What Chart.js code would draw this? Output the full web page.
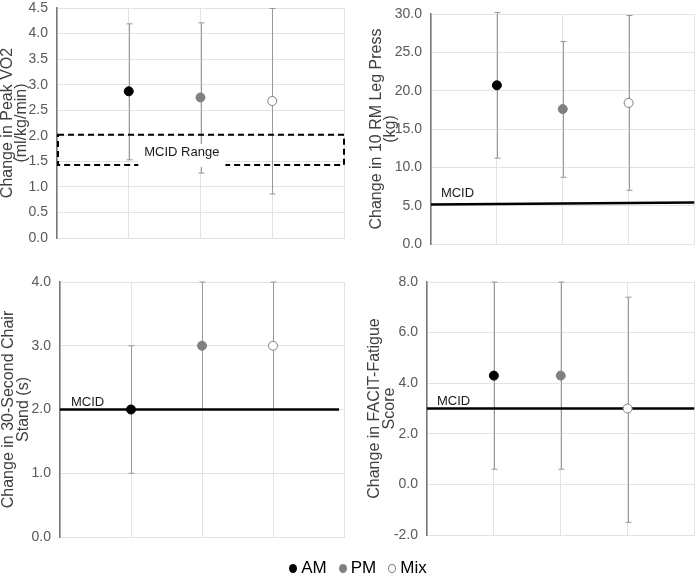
<!DOCTYPE html>
<html>
<head>
<meta charset="utf-8">
<script src="https://cdn.jsdelivr.net/npm/chart.js@4"></script>
<style>
body { margin: 0; background: #fff; width: 700px; height: 577px; position: relative; overflow: hidden;
  font-family: 'Liberation Sans', Arial, sans-serif; }
.panel { position: absolute; }
#legend { position: absolute; left: 14px; top: 557px; width: 700px; display: flex; justify-content: center;
  align-items: center; font-size: 17px; line-height: 22px; color: #000; }
#legend span.dot { display: inline-block; width: 8px; height: 9px; border-radius: 50%; margin-right: 4px; box-sizing: border-box; }
#legend span.item { margin-right: 12px; display: flex; align-items: center; }
</style>
</head>
<body>
<div class="panel" style="left:0;top:-10px"><canvas id="vo2" width="350" height="270"></canvas></div>
<div class="panel" style="left:350px;top:-10px"><canvas id="leg" width="350" height="280"></canvas></div>
<div class="panel" style="left:0;top:250px"><canvas id="chair" width="350" height="310"></canvas></div>
<div class="panel" style="left:350px;top:250px"><canvas id="facit" width="350" height="310"></canvas></div>
<div id="legend">
  <span class="item"><span class="dot" style="background:#000"></span>AM</span>
  <span class="item"><span class="dot" style="background:#808080"></span>PM</span>
  <span class="item"><span class="dot" style="background:#fff;border:1px solid #808080"></span>Mix</span>
</div>
<script>
// groups
const groups = ['AM', 'PM', 'Mix'];
const groupColors = ['#000000', '#808080', '#ffffff'];

// peak VO2 (ml/kg/min)
const vo2Mean = [2.87, 2.75, 2.68];
const vo2Low = [1.53, 1.27, 0.86];
const vo2High = [4.19, 4.21, 4.49];
const vo2Mcid = [1.43, 2.02];   // range box

// 10 RM leg press (kg)
const legMean = [20.7, 17.6, 18.4];
const legLow = [11.2, 8.7, 7.0];
const legHigh = [30.2, 26.4, 29.8];
const legMcid = [5.15, 5.4];    // line start / end

// 30 second chair stand
const chairMean = [2.0, 3.0, 3.0];
const chairLow = [1.0, 2.0, 2.0];
const chairHigh = [3.0, 4.0, 4.0];
const chairMcid = [2.0, 2.0];

// FACIT-fatigue
const facitMean = [4.3, 4.3, 3.0];
const facitLow = [0.6, 0.6, -1.5];
const facitHigh = [8.0, 8.0, 7.4];
const facitMcid = [3.0, 3.0];

const fontFam = "'Liberation Sans', Arial, sans-serif";

// draws the whiskers under the points
const errorBars = {
  id: 'errorBars',
  beforeDatasetsDraw(chart, args, opts) {
    const x = chart.scales.x, y = chart.scales.y, ctx = chart.ctx;
    ctx.save();
    ctx.strokeStyle = '#999';
    ctx.lineWidth = 1;
    opts.low.forEach((lo, i) => {
      const px = Math.round(x.getPixelForValue(i + 1)) + 0.5;
      const y1 = y.getPixelForValue(lo), y2 = y.getPixelForValue(opts.high[i]);
      ctx.beginPath();
      ctx.moveTo(px, y1); ctx.lineTo(px, y2);
      ctx.moveTo(px - 3, y1); ctx.lineTo(px + 3, y1);
      ctx.moveTo(px - 3, y2); ctx.lineTo(px + 3, y2);
      ctx.stroke();
    });
    ctx.restore();
  }
};

// MCID label + the dashed range box for VO2
const mcidMark = {
  id: 'mcidMark',
  afterDatasetsDraw(chart, args, opts) {
    const x = chart.scales.x, y = chart.scales.y, ctx = chart.ctx;
    ctx.save();
    ctx.font = opts.fontSize + 'px ' + fontFam;
    ctx.fillStyle = '#1a1a1a';
    if (opts.box) {
      const x0 = x.getPixelForValue(0) + 1, x1 = x.getPixelForValue(4);
      const yTop = y.getPixelForValue(opts.box[1]), yBot = y.getPixelForValue(opts.box[0]);
      ctx.strokeStyle = '#000';
      ctx.lineWidth = 2;
      ctx.setLineDash([6, 4]);
      ctx.strokeRect(x0, yTop, x1 - x0, yBot - yTop);
      ctx.setLineDash([]);
      const cx = x.getPixelForValue(opts.labelX);
      const cy = (yTop + yBot) / 2 + 3;
      const w = ctx.measureText(opts.text).width;
      ctx.fillStyle = '#fff';
      ctx.fillRect(cx - w / 2 - 6, cy - 9, w + 12, yBot - cy + 11);
      ctx.fillStyle = '#1a1a1a';
      ctx.textAlign = 'center';
      ctx.textBaseline = 'middle';
      ctx.fillText(opts.text, cx, cy);
    } else {
      ctx.textAlign = 'left';
      ctx.textBaseline = 'middle';
      ctx.fillText(opts.text, x.getPixelForValue(opts.labelX), y.getPixelForValue(opts.lineY) - opts.offset);
    }
    ctx.restore();
  }
};

function makeChart(id, cfg) {
  const datasets = [{
    type: 'scatter',
    label: 'groups',
    data: cfg.mean.map((v, i) => ({ x: i + 1, y: v })),
    pointRadius: 4.5,
    pointBackgroundColor: groupColors,
    pointBorderColor: ['#000000', '#808080', '#808080'],
    pointBorderWidth: 1,
    order: 0
  }];
  if (cfg.line) {
    datasets.push({
      type: 'line',
      label: 'MCID',
      data: [{ x: 0, y: cfg.line[0] }, { x: cfg.lineEnd, y: cfg.line[1] }],
      borderColor: '#000',
      borderWidth: 2.5,
      pointRadius: 0,
      order: 1
    });
  }
  return new Chart(document.getElementById(id), {
    type: 'scatter',
    data: { datasets: datasets },
    options: {
      responsive: false,
      animation: false,
      layout: { padding: cfg.pad },
      plugins: {
        legend: { display: false },
        tooltip: { enabled: false },
        errorBars: { low: cfg.low, high: cfg.high },
        mcidMark: cfg.mark
      },
      scales: {
        x: {
          type: 'linear', min: 0, max: 4,
          ticks: { display: false, stepSize: 1 },
          grid: { color: '#e3e3e3', drawTicks: false },
          border: { color: '#e3e3e3' },
          afterFit(s) { s.height = 0; }
        },
        y: {
          min: cfg.yMin, max: cfg.yMax,
          ticks: {
            stepSize: cfg.yStep, padding: 9, color: '#595959',
            font: { family: fontFam, size: 14 },
            callback: v => v.toFixed(1)
          },
          grid: { color: '#e3e3e3', drawTicks: false },
          border: { color: '#777', width: 1.5 },
          title: {
            display: true, text: cfg.title, color: '#404040',
            font: { family: fontFam, size: 16, lineHeight: 0.92 },
            padding: { top: cfg.titlePad, bottom: 0 }
          },
          afterFit(s) { s.width = cfg.yWidth; }
        }
      }
    },
    plugins: [errorBars, mcidMark]
  });
}

makeChart('vo2', {
  mean: vo2Mean, low: vo2Low, high: vo2High,
  yMin: 0, yMax: 4.5, yStep: 0.5,
  title: ['Change in Peak VO2', '(ml/kg/min)'], titlePad: 0,
  pad: { top: 18, right: 6, bottom: 22, left: 0 }, yWidth: 57,
  mark: { text: 'MCID Range', box: vo2Mcid, labelX: 1.74, fontSize: 13 }
});

makeChart('leg', {
  mean: legMean, low: legLow, high: legHigh,
  yMin: 0, yMax: 30, yStep: 5,
  line: legMcid, lineEnd: 4,
  title: ['Change in 10 RM Leg Press', '(kg)'], titlePad: 19,
  pad: { top: 24, right: 2, bottom: 26, left: 0 }, yWidth: 81,
  mark: { text: 'MCID', labelX: 0.15, lineY: legMcid[0], offset: 11, fontSize: 13 }
});

makeChart('chair', {
  mean: chairMean, low: chairLow, high: chairHigh,
  yMin: 0, yMax: 4, yStep: 1,
  line: chairMcid, lineEnd: 3.93,
  title: ['Change in 30-Second Chair', 'Stand (s)'], titlePad: 1.6,
  pad: { top: 32, right: 6, bottom: 23, left: 0 }, yWidth: 60,
  mark: { text: 'MCID', labelX: 0.155, lineY: chairMcid[0], offset: 7, fontSize: 13 }
});

makeChart('facit', {
  mean: facitMean, low: facitLow, high: facitHigh,
  yMin: -2, yMax: 8, yStep: 2,
  line: facitMcid, lineEnd: 4,
  title: ['Change in FACIT-Fatigue', 'Score'], titlePad: 17.6,
  pad: { top: 32, right: 3, bottom: 25, left: 0 }, yWidth: 77,
  mark: { text: 'MCID', labelX: 0.15, lineY: facitMcid[0], offset: 7, fontSize: 13 }
});
</script>
</body>
</html>
